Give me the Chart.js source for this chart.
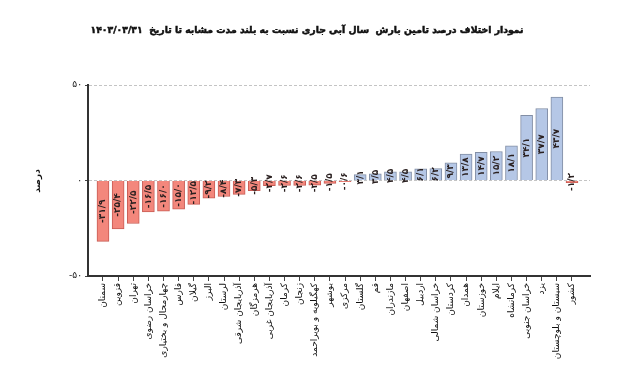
<!DOCTYPE html>
<html><head><meta charset="utf-8">
<script src="https://cdn.jsdelivr.net/npm/chart.js@4/dist/chart.umd.min.js"></script>
<style>html,body{margin:0;padding:0;background:#fff;}canvas{display:block;}</style>
</head><body>
<canvas id="c" width="640" height="373"></canvas>
<script>
const categories = ["سمنان","قزوین","تهران","خراسان رضوی","چهارمحال و بختیاری","فارس","گیلان","البرز","لرستان","آذربایجان شرقی","هرمزگان","آذربایجان غربی","کرمان","زنجان","کهگیلویه و بویراحمد","بوشهر","مرکزی","گلستان","قم","مازندران","اصفهان","اردبیل","خراسان شمالی","کردستان","همدان","خوزستان","ایلام","کرمانشاه","خراسان جنوبی","یزد","سیستان و بلوچستان","کشور"];
const values = [-31.9,-25.4,-22.5,-16.5,-16.0,-15.0,-12.5,-9.2,-8.4,-7.3,-5.3,-2.7,-2.6,-2.6,-2.5,-1.5,-0.6,3.1,3.5,4.5,4.5,6.1,6.2,9.3,13.8,14.7,15.2,18.1,34.1,37.7,43.7,-1.2];
const yTicks = [-50,0,50];
const titleText = "نمودار اختلاف درصد تامین بارش  سال آبی جاری نسبت به بلند مدت مشابه تا تاریخ  ۱۴۰۳/۰۳/۳۱";
const yTitle = "درصد";

const FA = "۰۱۲۳۴۵۶۷۸۹";
function toFa(v, dec){
  let s = dec ? Math.abs(v).toFixed(1) : String(Math.abs(v));
  s = s.replace(/[0-9]/g, d => FA[+d]).replace('.', '/');
  return (v < 0 ? '-' : '') + s;
}

const RED = 'rgb(243,135,124)', RED_B = 'rgb(200,92,84)';
const BLUE = 'rgb(181,199,230)', BLUE_B = 'rgb(130,142,165)';

const labelPlugin = {
  id: 'labels',
  afterDatasetsDraw(chart){
    const ctx = chart.ctx;
    const meta = chart.getDatasetMeta(0);
    ctx.save();
    ctx.font = 'bold 9px "DejaVu Sans"';
    ctx.fillStyle = '#2a2020';
    ctx.textAlign = 'center';
    ctx.textBaseline = 'middle';
    ctx.direction = 'ltr';
    meta.data.forEach((el, i) => {
      const cy = (el.y + el.base) / 2;
      ctx.save();
      ctx.translate(el.x, cy);
      ctx.rotate(-Math.PI/2);
      ctx.fillText(toFa(values[i], true), 0, 0);
      ctx.restore();
    });
    ctx.restore();
  },
  afterDraw(chart){
    const ctx = chart.ctx;
    ctx.save();
    ctx.fillStyle = '#111';
    ctx.strokeStyle = '#111';
    ctx.lineWidth = 0.5;
    ctx.font = 'bold 9.3px "DejaVu Sans"';
    ctx.textAlign = 'center';
    ctx.textBaseline = 'middle';
    ctx.direction = 'rtl';
    ctx.fillText(titleText, 307, 31);
    ctx.strokeText(titleText, 307, 31);
    ctx.font = 'bold 9px "DejaVu Sans"';
    ctx.translate(38, 181);
    ctx.rotate(-Math.PI/2);
    ctx.fillText(yTitle, 0, 0);
    ctx.restore();
  }
};

new Chart(document.getElementById('c'), {
  type: 'bar',
  data: {
    datasets: [{
      data: values.map((v, i) => ({x: i, y: v})),
      backgroundColor: values.map(v => v < 0 ? RED : BLUE),
      borderColor: values.map(v => v < 0 ? RED_B : BLUE_B),
      borderWidth: 1,
      barThickness: 12
    }]
  },
  options: {
    responsive: false,
    animation: false,
    layout: {padding: {top: 85, right: 50, left: 0, bottom: 0}},
    plugins: {legend: {display: false}, tooltip: {enabled: false}, title: {display: false}},
    scales: {
      x: {
        type: 'linear',
        offset: false,
        min: -0.99, max: 32.19,
        afterBuildTicks: s => { s.ticks = categories.map((_, i) => ({value: i})); },
        afterFit: s => { s.height = 97; },
        ticks: {
          autoSkip: false, maxRotation: 90, minRotation: 90, padding: 2,
          color: '#111', font: {family: 'DejaVu Sans', size: 9},
          callback: v => categories[v]
        },
        grid: {display: true, offset: false, drawOnChartArea: false, drawTicks: true, tickLength: 5, color: '#444'},
        border: {display: true, color: '#333', width: 2}
      },
      y: {
        min: -50, max: 50,
        afterBuildTicks: s => { s.ticks = yTicks.map(v => ({value: v})); },
        afterFit: s => { s.width = 88; },
        ticks: {
          color: '#111', padding: 3, font: {family: 'DejaVu Sans', size: 9},
          callback: v => toFa(v, false)
        },
        grid: {
          color: c => c.tick && c.tick.value === -50 ? 'rgba(0,0,0,0)' : '#c4c4c4',
          tickColor: '#444', tickLength: 3, lineWidth: 1
        },
        border: {display: true, color: '#333', width: 2, dash: [3, 2]}
      }
    }
  },
  plugins: [labelPlugin]
});
</script>
</body></html>
